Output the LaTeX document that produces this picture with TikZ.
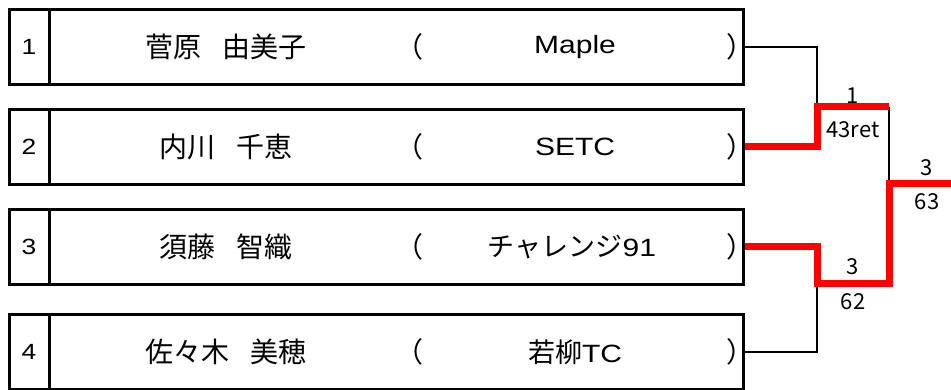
\documentclass[tikz,border=0pt]{standalone}
\usepackage{fontspec}
\setmainfont[FakeStretch=1.2]{Liberation Sans}
\newfontfamily\jp{Noto Sans CJK JP}
\newcommand{\nmgap}{\hspace{21pt}}

\begin{document}
\begin{tikzpicture}[x=1pt,y=-1pt,
  numcell/.style={draw,line width=3pt,minimum width=40pt,minimum height=75pt,inner sep=0pt,font=\fontsize{22}{22}\selectfont},
  namecell/.style={draw,line width=3pt,minimum width=694pt,minimum height=75pt,inner sep=0pt},
  txt/.style={inner sep=0pt,font=\fontsize{25}{25}\selectfont},
  jtxt/.style={inner sep=0pt,font=\jp\fontsize{28}{28}\selectfont},
  score/.style={inner sep=0pt,font=\jp\fontsize{22}{22}\selectfont},
  lose/.style={line width=2pt},
  win/.style={line width=7pt,red,line join=miter}]
\clip (0,0) rectangle (951,390);

\node[numcell] (k1) at (29,47) {1};
\node[namecell] (c1) at (396,47) {};
\node[jtxt] (n1) at (226,47) {菅原\nmgap 由美子};
\node[jtxt] (l1) at (409,47) {（};
\node[txt] (t1) at (575,47) {Maple};
\node[jtxt] (r1) at (740,47) {）};

\node[numcell] (k2) at (29,147) {2};
\node[namecell] (c2) at (396,147) {};
\node[jtxt] (n2) at (226,147) {内川\nmgap 千恵};
\node[jtxt] (l2) at (409,147) {（};
\node[txt] (t2) at (575,147) {SETC};
\node[jtxt] (r2) at (740,147) {）};

\node[numcell] (k3) at (29,247) {3};
\node[namecell] (c3) at (396,247) {};
\node[jtxt] (n3) at (226,247) {須藤\nmgap 智織};
\node[jtxt] (l3) at (409,247) {（};
\node[txt] (t3) at (572,247) {{\jp\fontsize{27}{27}\selectfont チャレンジ}91};
\node[jtxt] (r3) at (740,247) {）};

\node[numcell] (k4) at (29,352) {4};
\node[namecell] (c4) at (396,352) {};
\node[jtxt] (n4) at (226,352) {佐々木\nmgap 美穂};
\node[jtxt] (l4) at (409,352) {（};
\node[txt] (t4) at (575,352) {{\jp\fontsize{27}{27}\selectfont 若柳}TC};
\node[jtxt] (r4) at (740,352) {）};

% bracket
\coordinate (m1) at (817,107);
\coordinate (m2) at (817,284);
\coordinate (f1) at (889,107);
\coordinate (f2) at (889,284);
\coordinate (fin) at (889,184);
\coordinate (out) at (951,184);

\draw[lose] (c1.east) -| (m1);
\draw[lose] (c4.east) -| (m2);
\draw[lose] (f1) -- (fin);

\draw[win] (c2.east) -| (m1) -- (f1);
\draw[win] (c3.east) -| (m2) -- (f2) -- (fin) -- (out);

\node[score] (s1) at (853,96) {1};
\node[score] (g1) at (853,130) {43ret};
\node[score] (s2) at (853,267) {3};
\node[score] (g2) at (853,302) {62};
\node[score] (s3) at (927,168) {3};
\node[score] (g3) at (927,202) {63};
\end{tikzpicture}
\end{document}
